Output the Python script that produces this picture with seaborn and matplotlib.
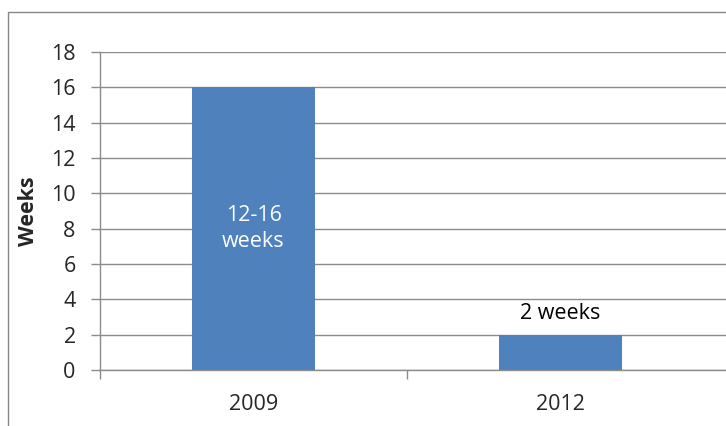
import matplotlib
matplotlib.use("Agg")
import matplotlib.pyplot as plt
from matplotlib.patches import Rectangle
import seaborn as sns
import pandas as pd

years = ["2009", "2012"]
weeks = [16, 2]
bar_labels = ["12-16\nweeks", "2 weeks"]
y_ticks = [0, 2, 4, 6, 8, 10, 12, 14, 16, 18]

sns.set_theme(style="white")
plt.rcParams["font.family"] = ["Open Sans", "DejaVu Sans"]

W, H = 726, 426
FS = 15.5
fig = plt.figure(figsize=(W / 100, H / 100), dpi=100)
fig.patch.set_facecolor("white")

# outer chart border (runs past the right and bottom edges)
fig.patches.append(Rectangle((8 / W, -0.1), 1.2, (H - 12) / H + 0.1,
                             transform=fig.transFigure, fill=False,
                             edgecolor="#868686", linewidth=1.0, clip_on=False))

ax = fig.add_axes([100 / W, (H - 370) / H, (W - 100) / W, 318 / H])

df = pd.DataFrame({"year": years, "weeks": weeks})
sns.barplot(data=df, x="year", y="weeks", color="#4F81BD", saturation=1,
            width=0.4, linewidth=0, ax=ax)

ax.set_ylim(0, 18)
ax.set_xlim(-0.5, 0.5 + (W - 407) / 307)
ax.set_yticks(y_ticks)
ax.set_yticklabels([str(t) for t in y_ticks], fontsize=FS)
ax.yaxis.grid(True, color="#8c8c8c", linewidth=1.0)
ax.set_axisbelow(True)

# category boundary ticks on the x axis, labels centred on bars
ax.set_xticks([-0.5, 0.5])
ax.set_xticklabels(["", ""])
ax.set_xticks([0, 1], minor=True)
ax.set_xticklabels(years, minor=True, fontsize=FS)
ax.tick_params(axis="x", which="major", length=6.5, color="#8c8c8c", width=1,
               direction="out", bottom=True)
ax.tick_params(axis="x", which="minor", length=0, pad=17)
ax.tick_params(axis="y", length=6.5, color="#8c8c8c", width=1,
               direction="out", left=True, pad=11)

for side in ["top", "right"]:
    ax.spines[side].set_visible(False)
for side in ["left", "bottom"]:
    ax.spines[side].set_color("#8c8c8c")
    ax.spines[side].set_linewidth(1.0)

ax.set_xlabel("")
ax.set_ylabel("Weeks", fontsize=FS, fontweight="bold")
ax.yaxis.set_label_coords(-61 / (W - 100), 0.5)

# value labels
ax.text(0, weeks[0] / 2, bar_labels[0], ha="center", va="center",
        color="white", fontsize=FS, linespacing=1.35)
ax.text(1, weeks[1] + 0.6, bar_labels[1], ha="center", va="bottom",
        color="black", fontsize=FS)

fig.savefig("out.png", dpi=100)
